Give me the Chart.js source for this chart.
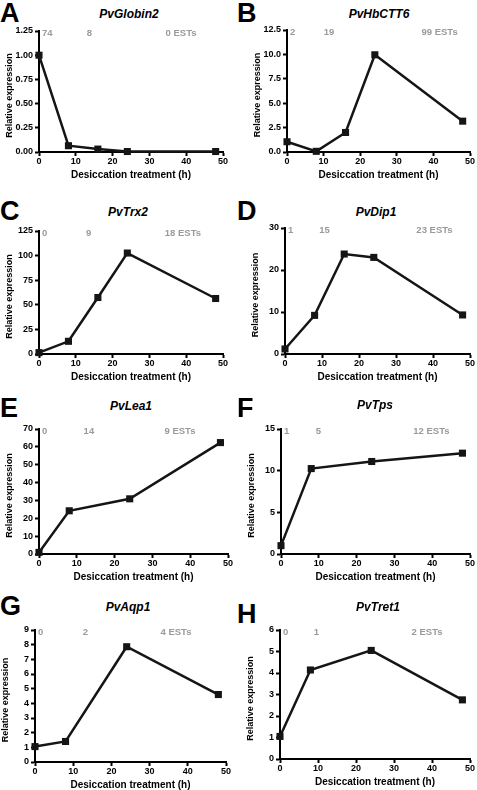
<!DOCTYPE html>
<html>
<head>
<meta charset="utf-8">
<script src="https://cdn.jsdelivr.net/npm/chart.js@4.4.1/dist/chart.umd.min.js"></script>
<style>
    html, body { margin: 0; padding: 0; background: #fff; }
    body { width: 477px; height: 790px; position: relative; overflow: hidden; font-family: 'Liberation Sans', Arial, sans-serif; }
    .letter { position: absolute; font-weight: bold; font-size: 27px; line-height: 1; color: #000; }
    .gene { position: absolute; font-weight: bold; font-style: italic; font-size: 12px; line-height: 1; color: #000; transform: translate(-50%, -50%); white-space: nowrap; }
    canvas { position: absolute; }
</style>
</head>
<body>
<script>
// Sampling times (h)
const hoursFive = [0, 8, 16, 24, 48];
const hoursFour = [0, 8, 24, 48];

// Relative expression per gene
const globin2 = [1.0, 0.065, 0.03, 0.005, 0.005];
const hbCTT6 = [1.05, 0.07, 2.0, 9.96, 3.16];
const trx2 = [1.4, 12.9, 57.4, 102.6, 56.4];
const dip1 = [1.2, 9.2, 23.8, 23.0, 9.3];
const lea1 = [0.9, 24.2, 30.9, 62.4];
const tps = [1.0, 10.25, 11.1, 12.1];
const aqp1 = [1.05, 1.4, 7.86, 4.6];
const tret1 = [1.05, 4.14, 5.05, 2.75];

// EST counts shown above each plot
const estGlobin2 = ['74', '8', '0 ESTs'];
const estHbCTT6 = ['2', '19', '99 ESTs'];
const estTrx2 = ['0', '9', '18 ESTs'];
const estDip1 = ['1', '15', '23 ESTs'];
const estLea1 = ['0', '14', '9 ESTs'];
const estTps = ['1', '5', '12 ESTs'];
const estAqp1 = ['0', '2', '4 ESTs'];
const estTret1 = ['0', '1', '2 ESTs'];

// Axis ticks
const xTickMax = 50;
const xTickStep = 10;
const yMaxes = [1.25, 12.5, 125, 30, 70, 15, 9, 6];
const ySteps = [0.25, 2.5, 25, 10, 10, 5, 1, 1];
const yDecimals = [2, 1, 0, 0, 0, 0, 0, 0];

const FONT = "'Liberation Sans', Arial, sans-serif";
const Y_AXIS_W = 36;
const X_AXIS_H = 29;
const PAD_TOP = 8;
const PAD_RIGHT = 10;

// plot area rectangles and label placement per panel
const panels = [
    { letter: 'A', gene: 'PvGlobin2', hours: hoursFive, values: globin2, est: estGlobin2, estAt: [13.7, 38.6],
      plot: { l: 39, t: 31, r: 223, b: 152 }, letterPos: [0, 0], genePos: [129, 14] },
    { letter: 'B', gene: 'PvHbCTT6', hours: hoursFive, values: hbCTT6, est: estHbCTT6, estAt: [11.5, 41.7],
      plot: { l: 287, t: 30, r: 470, b: 152 }, letterPos: [237, 0], genePos: [379, 14] },
    { letter: 'C', gene: 'PvTrx2', hours: hoursFive, values: trx2, est: estTrx2, estAt: [13.5, 39.1],
      plot: { l: 39, t: 231, r: 223, b: 354 }, letterPos: [0, 198], genePos: [128, 212] },
    { letter: 'D', gene: 'PvDip1', hours: hoursFive, values: dip1, est: estDip1, estAt: [10.7, 40.4],
      plot: { l: 285, t: 228, r: 470, b: 354 }, letterPos: [237, 198], genePos: [376, 212] },
    { letter: 'E', gene: 'PvLea1', hours: hoursFour, values: lea1, est: estLea1, estAt: [13.2, 37.3],
      plot: { l: 39, t: 429, r: 228, b: 554 }, letterPos: [0, 395], genePos: [131, 406] },
    { letter: 'F', gene: 'PvTps', hours: hoursFour, values: tps, est: estTps, estAt: [9.9, 39.8],
      plot: { l: 281, t: 429, r: 470, b: 554 }, letterPos: [237, 395], genePos: [375, 405] },
    { letter: 'G', gene: 'PvAqp1', hours: hoursFour, values: aqp1, est: estAqp1, estAt: [13.2, 36.9],
      plot: { l: 35, t: 630, r: 226, b: 762 }, letterPos: [0, 593], genePos: [128, 607] },
    { letter: 'H', gene: 'PvTret1', hours: hoursFour, values: tret1, est: estTret1, estAt: [9.6, 38.7],
      plot: { l: 280, t: 630, r: 470, b: 759 }, letterPos: [237, 601], genePos: [378, 607] }
];

// grey EST counts along the top, and the y title drawn a little below centre like the original
const estLabelPlugin = {
    id: 'estLabels',
    afterDatasetsDraw(chart, args, opts) {
        const ctx = chart.ctx;
        const area = chart.chartArea;
        const xScale = chart.scales.x;
        const y = area.top + 2;
        ctx.save();
        ctx.fillStyle = '#9a9a9a';
        ctx.font = 'bold 9.5px ' + FONT;
        ctx.textBaseline = 'middle';
        ctx.textAlign = 'left';
        ctx.fillText(opts.labels[0], area.left + 3, y);
        ctx.textAlign = 'center';
        for (let i = 1; i < opts.labels.length; i++) {
            ctx.fillText(opts.labels[i], xScale.getPixelForValue(opts.at[i - 1]), y);
        }

        ctx.fillStyle = '#000';
        ctx.font = 'bold 9px ' + FONT;
        ctx.translate(area.left - 29, (area.top + area.bottom) / 2 + 4);
        ctx.rotate(-Math.PI / 2);
        ctx.fillText('Relative expression', 0, 0);
        ctx.restore();
    }
};

function addText(cls, text, x, y) {
    const el = document.createElement('div');
    el.className = cls;
    el.textContent = text;
    el.style.left = x + 'px';
    el.style.top = y + 'px';
    document.body.appendChild(el);
}

function createPanel(p, idx) {
    addText('letter', p.letter, p.letterPos[0], p.letterPos[1]);
    addText('gene', p.gene, p.genePos[0], p.genePos[1]);

    const canvas = document.createElement('canvas');
    const w = (p.plot.r - p.plot.l) + Y_AXIS_W + PAD_RIGHT;
    const h = (p.plot.b - p.plot.t) + PAD_TOP + X_AXIS_H;
    canvas.style.left = (p.plot.l - Y_AXIS_W) + 'px';
    canvas.style.top = (p.plot.t - PAD_TOP) + 'px';
    canvas.style.width = w + 'px';
    canvas.style.height = h + 'px';
    canvas.width = w;
    canvas.height = h;
    document.body.appendChild(canvas);

    const points = p.hours.map((hr, i) => ({ x: hr, y: p.values[i] }));
    const decimals = yDecimals[idx];

    new Chart(canvas, {
        type: 'line',
        data: {
            datasets: [{
                data: points,
                borderColor: '#151515',
                backgroundColor: '#151515',
                borderWidth: 2.5,
                pointStyle: 'rect',
                pointRadius: 5,
                pointBorderWidth: 0,
                tension: 0,
                clip: false
            }]
        },
        options: {
            responsive: false,
            animation: false,
            devicePixelRatio: 1,
            layout: { padding: { left: 0, top: PAD_TOP, right: PAD_RIGHT, bottom: 0 } },
            plugins: {
                legend: { display: false },
                tooltip: { enabled: false },
                estLabels: { labels: p.est, at: p.estAt }
            },
            scales: {
                x: {
                    type: 'linear',
                    min: 0,
                    max: xTickMax,
                    afterFit(scale) { scale.height = X_AXIS_H; },
                    ticks: {
                        stepSize: xTickStep,
                        color: '#000',
                        padding: 0,
                        maxRotation: 0,
                        font: { family: FONT, size: 9, weight: 'bold' }
                    },
                    grid: { drawOnChartArea: false, tickLength: 4, tickWidth: 2, tickColor: '#000' },
                    border: { display: true, color: '#000', width: 2 },
                    title: {
                        display: true,
                        text: 'Desiccation treatment (h)',
                        color: '#000',
                        padding: 0,
                        font: { family: FONT, size: 10, weight: 'bold' }
                    }
                },
                y: {
                    min: 0,
                    max: yMaxes[idx],
                    afterFit(scale) { scale.width = Y_AXIS_W; },
                    ticks: {
                        stepSize: ySteps[idx],
                        color: '#000',
                        padding: 2,
                        font: { family: FONT, size: 9, weight: 'bold' },
                        callback: value => value.toFixed(decimals)
                    },
                    grid: { drawOnChartArea: false, tickLength: 4, tickWidth: 2, tickColor: '#000' },
                    border: { display: true, color: '#000', width: 2 },
                    title: { display: false }
                }
            }
        },
        plugins: [estLabelPlugin]
    });
}

panels.forEach(createPanel);
</script>
</body>
</html>
